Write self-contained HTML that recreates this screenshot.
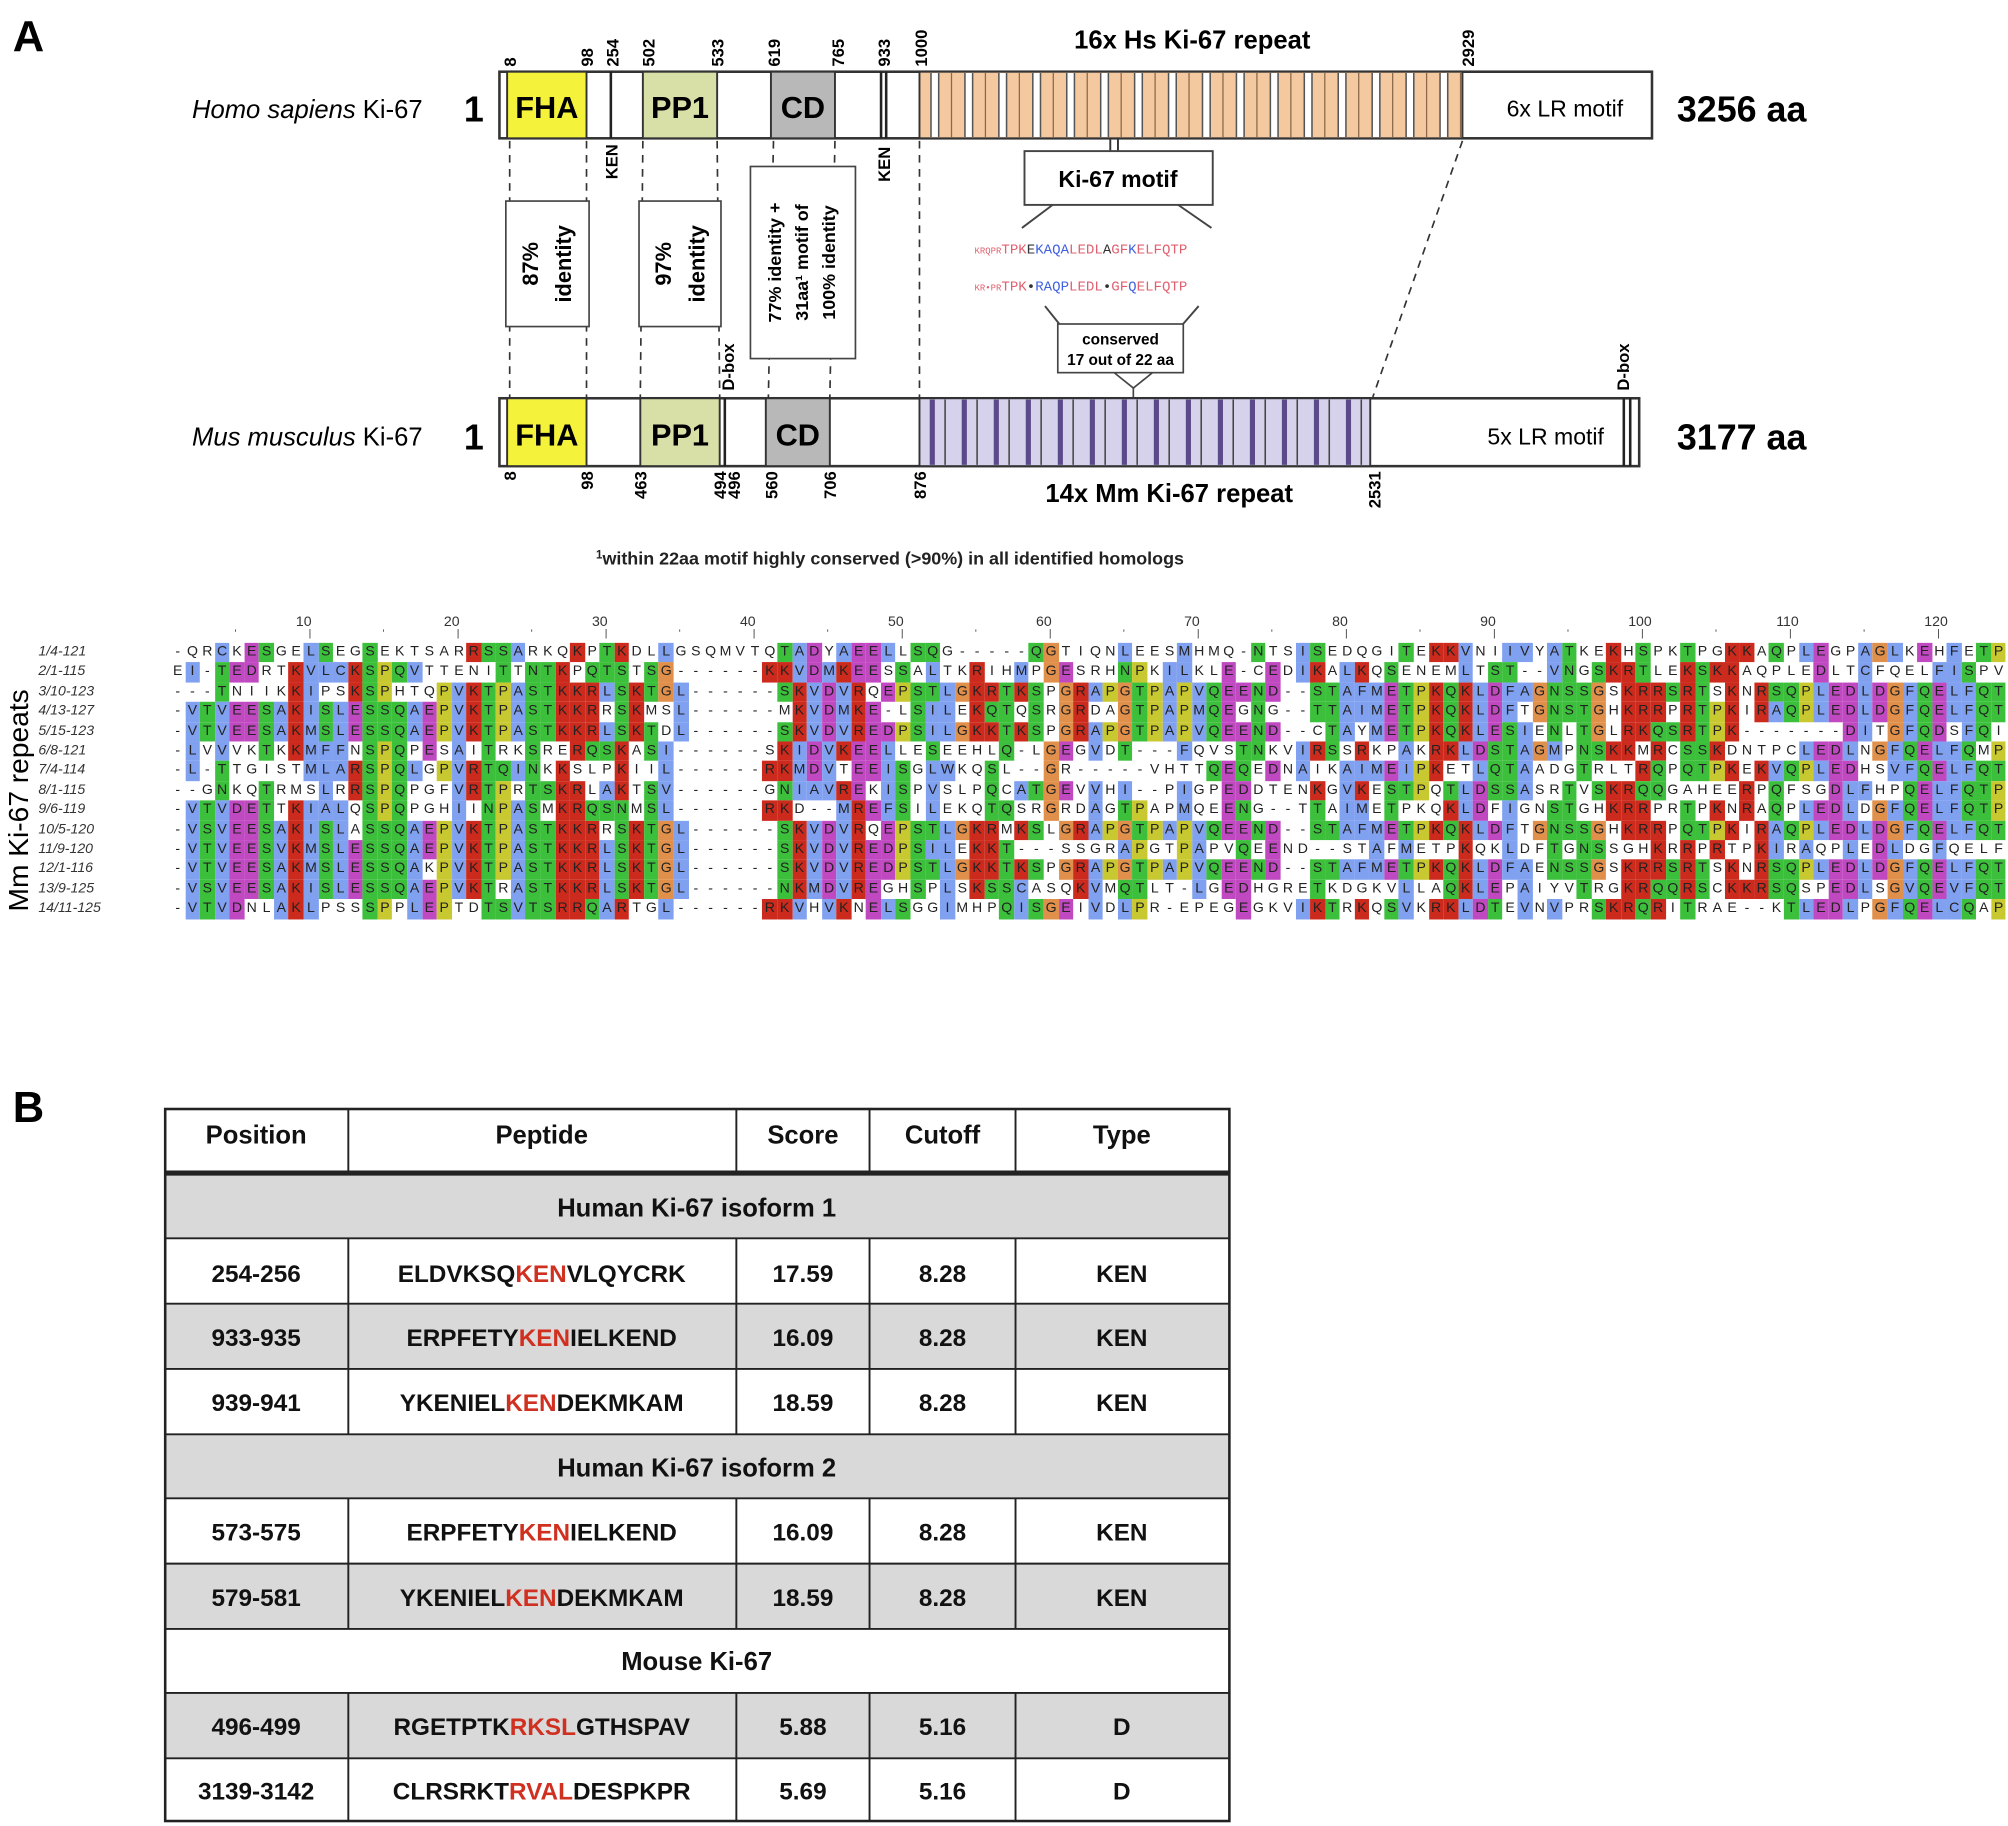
<!DOCTYPE html>
<html><head><meta charset="utf-8">
<style>
html,body{margin:0;padding:0;background:#fff;}
#wrap{position:relative;width:1568px;height:1426px;transform:scale(1.28061);transform-origin:0 0;font-family:"Liberation Sans",sans-serif;}
svg{position:absolute;left:0;top:0;}
#aln{position:absolute;left:0;top:0;}
.c{position:absolute;width:11.56px;height:15.4px;font-size:11px;line-height:15.4px;text-align:center;color:#222;font-family:"Liberation Sans",sans-serif;}
.lab{position:absolute;left:30px;width:100px;font-size:11px;font-style:italic;color:#333;line-height:15.4px;}
.rn{position:absolute;font-size:11px;color:#333;}
</style></head><body>
<div id="wrap">
<svg width="1568" height="1426" viewBox="0 0 1568 1426" font-family="Liberation Sans, sans-serif">
<text x="10" y="40" font-size="34" font-weight="bold">A</text>
<text x="10" y="876" font-size="34" font-weight="bold">B</text>

<text x="330" y="92" font-size="20" text-anchor="end"><tspan font-style="italic">Homo sapiens</tspan> Ki-67</text>
<text x="370" y="95" font-size="28" font-weight="bold" text-anchor="middle">1</text>
<text x="1360" y="95" font-size="28" font-weight="bold" text-anchor="middle">3256 aa</text>
<text x="931" y="38" font-size="20" font-weight="bold" text-anchor="middle">16x Hs Ki-67 repeat</text>
<rect x="390" y="56" width="900" height="52" fill="#fff" stroke="#333" stroke-width="2"/>
<rect x="396" y="56" width="62" height="52" fill="#f5f23c" stroke="#333" stroke-width="1.5"/>
<text x="427" y="92" font-size="24" font-weight="bold" text-anchor="middle">FHA</text>
<line x1="477" y1="56" x2="477" y2="108" stroke="#222" stroke-width="2"/>
<rect x="502" y="56" width="58" height="52" fill="#d8e0a8" stroke="#333" stroke-width="1.5"/>
<text x="531" y="92" font-size="24" font-weight="bold" text-anchor="middle">PP1</text>
<rect x="602" y="56" width="50" height="52" fill="#b8b8b8" stroke="#333" stroke-width="1.5"/>
<text x="627" y="92" font-size="24" font-weight="bold" text-anchor="middle">CD</text>
<line x1="688" y1="56" x2="688" y2="108" stroke="#222" stroke-width="2"/>
<line x1="692" y1="56" x2="692" y2="108" stroke="#222" stroke-width="2"/>
<rect x="718" y="56" width="424" height="52" fill="#f5c9a0" stroke="#333" stroke-width="1.5"/>
<g id="hstripes"></g>
<text x="1222" y="91" font-size="18" text-anchor="middle">6x LR motif</text>
<g font-size="13" font-weight="bold">
<text transform="translate(403,52) rotate(-90)">8</text>
<text transform="translate(463,52) rotate(-90)">98</text>
<text transform="translate(483,52) rotate(-90)">254</text>
<text transform="translate(511,52) rotate(-90)">502</text>
<text transform="translate(565,52) rotate(-90)">533</text>
<text transform="translate(609,52) rotate(-90)">619</text>
<text transform="translate(659,52) rotate(-90)">765</text>
<text transform="translate(695,52) rotate(-90)">933</text>
<text transform="translate(724,52) rotate(-90)">1000</text>
<text transform="translate(1151,52) rotate(-90)">2929</text>
<text transform="translate(482,140) rotate(-90)">KEN</text>
<text transform="translate(695,142) rotate(-90)">KEN</text>
<text transform="translate(573,305) rotate(-90)">D-box</text>
<text transform="translate(1272,305) rotate(-90)">D-box</text>
</g>

<g stroke="#333" stroke-width="1.3" stroke-dasharray="6,5" fill="none">
<line x1="398" y1="110" x2="398" y2="310"/>
<line x1="458" y1="110" x2="458" y2="310"/>
<line x1="502" y1="110" x2="500" y2="310"/>
<line x1="560" y1="110" x2="562" y2="310"/>
<line x1="604" y1="110" x2="600" y2="310"/>
<line x1="652" y1="110" x2="648" y2="310"/>
<line x1="718" y1="110" x2="718" y2="310"/>
<line x1="1142" y1="110" x2="1072" y2="310"/>
</g>
<rect x="395" y="157" width="65" height="98" fill="#fff" stroke="#444" stroke-width="1.3"/>
<text transform="translate(420,206) rotate(-90)" font-size="17" font-weight="bold" text-anchor="middle">87%</text>
<text transform="translate(446,206) rotate(-90)" font-size="17" font-weight="bold" text-anchor="middle">identity</text>
<rect x="499" y="157" width="64" height="98" fill="#fff" stroke="#444" stroke-width="1.3"/>
<text transform="translate(524,206) rotate(-90)" font-size="17" font-weight="bold" text-anchor="middle">97%</text>
<text transform="translate(550,206) rotate(-90)" font-size="17" font-weight="bold" text-anchor="middle">identity</text>
<rect x="586" y="130" width="82" height="150" fill="#fff" stroke="#444" stroke-width="1.3"/>
<g font-size="14" font-weight="bold" text-anchor="middle">
<text transform="translate(610,205) rotate(-90)">77% identity +</text>
<text transform="translate(631,205) rotate(-90)">31aa¹ motif of</text>
<text transform="translate(652,205) rotate(-90)">100% identity</text>
</g>

<line x1="867" y1="108" x2="867" y2="118" stroke="#333" stroke-width="1.5"/>
<line x1="873" y1="108" x2="873" y2="118" stroke="#333" stroke-width="1.5"/>
<rect x="800" y="118" width="147" height="42" fill="#fff" stroke="#444" stroke-width="1.5"/>
<text x="873" y="146" font-size="18" font-weight="bold" text-anchor="middle">Ki-67 motif</text>
<line x1="822" y1="160" x2="798" y2="178" stroke="#444" stroke-width="1.5"/>
<line x1="920" y1="160" x2="946" y2="178" stroke="#444" stroke-width="1.5"/>
<g font-family="Liberation Mono, monospace" font-size="11">
<text x="761" y="198" fill="#e06070"><tspan font-size="7">KRQPR</tspan>TPK<tspan fill="#333">E</tspan><tspan fill="#4060e0">KAQA</tspan>LEDL<tspan fill="#333">A</tspan>GF<tspan fill="#4060e0">K</tspan>ELFQTP</text>
<text x="761" y="227" fill="#e06070"><tspan font-size="7">KR•PR</tspan>TPK<tspan fill="#333">•</tspan><tspan fill="#4060e0">RAQP</tspan>LEDL<tspan fill="#333">•</tspan>GF<tspan fill="#4060e0">Q</tspan>ELFQTP</text>
</g>
<line x1="816" y1="239" x2="828" y2="254" stroke="#444" stroke-width="1.5"/>
<line x1="936" y1="239" x2="923" y2="254" stroke="#444" stroke-width="1.5"/>
<rect x="826" y="253" width="98" height="38" fill="#fff" stroke="#444" stroke-width="1.3"/>
<text x="875" y="269" font-size="12" font-weight="bold" text-anchor="middle">conserved</text>
<text x="875" y="285" font-size="12" font-weight="bold" text-anchor="middle">17 out of 22 aa</text>
<polyline points="870,291 885,303 900,291" fill="none" stroke="#444" stroke-width="1.3"/>
<line x1="885" y1="303" x2="885" y2="311" stroke="#444" stroke-width="1.3"/>

<text x="330" y="348" font-size="20" text-anchor="end"><tspan font-style="italic">Mus musculus</tspan> Ki-67</text>
<text x="370" y="351" font-size="28" font-weight="bold" text-anchor="middle">1</text>
<text x="1360" y="351" font-size="28" font-weight="bold" text-anchor="middle">3177 aa</text>
<rect x="390" y="311" width="890" height="53" fill="#fff" stroke="#333" stroke-width="2"/>
<rect x="396" y="311" width="62" height="53" fill="#f5f23c" stroke="#333" stroke-width="1.5"/>
<text x="427" y="348" font-size="24" font-weight="bold" text-anchor="middle">FHA</text>
<rect x="500" y="311" width="62" height="53" fill="#d8e0a8" stroke="#333" stroke-width="1.5"/>
<text x="531" y="348" font-size="24" font-weight="bold" text-anchor="middle">PP1</text>
<line x1="566" y1="311" x2="566" y2="364" stroke="#222" stroke-width="2"/>
<rect x="598" y="311" width="50" height="53" fill="#b8b8b8" stroke="#333" stroke-width="1.5"/>
<text x="623" y="348" font-size="24" font-weight="bold" text-anchor="middle">CD</text>
<rect x="718" y="311" width="352" height="53" fill="#d6d2ec" stroke="#333" stroke-width="1.5"/>
<g id="mstripes"></g>
<text x="1207" y="347" font-size="18" text-anchor="middle">5x LR motif</text>
<line x1="1268" y1="311" x2="1268" y2="364" stroke="#222" stroke-width="2"/>
<line x1="1273" y1="311" x2="1273" y2="364" stroke="#222" stroke-width="2"/>
<g font-size="13" font-weight="bold" text-anchor="end">
<text transform="translate(403,368) rotate(-90)">8</text>
<text transform="translate(463,368) rotate(-90)">98</text>
<text transform="translate(505,368) rotate(-90)">463</text>
<text transform="translate(567,368) rotate(-90)">494</text>
<text transform="translate(578,368) rotate(-90)">496</text>
<text transform="translate(607,368) rotate(-90)">560</text>
<text transform="translate(653,368) rotate(-90)">706</text>
<text transform="translate(723,368) rotate(-90)">876</text>
<text transform="translate(1078,368) rotate(-90)">2531</text>
</g>
<text x="913" y="392" font-size="20" font-weight="bold" text-anchor="middle">14x Mm Ki-67 repeat</text>
<text x="695" y="441" font-size="14" font-weight="bold" text-anchor="middle" fill="#222"><tspan font-size="9" dy="-5">1</tspan><tspan dy="5">within 22aa motif highly conserved (&gt;90%) in all identified homologs</tspan></text>

<text transform="translate(22,625) rotate(-90)" font-size="22" text-anchor="middle">Mm Ki-67 repeats</text>

<g>
<rect x="129" y="916" width="831" height="51" fill="#d9d9d9"/>
<rect x="129" y="1018" width="831" height="51" fill="#d9d9d9"/>
<rect x="129" y="1120" width="831" height="50" fill="#d9d9d9"/>
<rect x="129" y="1221" width="831" height="51" fill="#d9d9d9"/>
<rect x="129" y="1322" width="831" height="51" fill="#d9d9d9"/>
<rect x="129" y="866" width="831" height="556" fill="none" stroke="#222" stroke-width="2"/>
<line x1="129" y1="916" x2="960" y2="916" stroke="#222" stroke-width="4"/>
<g stroke="#222" stroke-width="1.5">
<line x1="129" y1="967" x2="960" y2="967"/><line x1="129" y1="1018" x2="960" y2="1018"/>
<line x1="129" y1="1069" x2="960" y2="1069"/><line x1="129" y1="1120" x2="960" y2="1120"/>
<line x1="129" y1="1170" x2="960" y2="1170"/><line x1="129" y1="1221" x2="960" y2="1221"/>
<line x1="129" y1="1272" x2="960" y2="1272"/><line x1="129" y1="1322" x2="960" y2="1322"/>
<line x1="129" y1="1373" x2="960" y2="1373"/>
<line x1="272" y1="866" x2="272" y2="916"/><line x1="575" y1="866" x2="575" y2="916"/><line x1="679" y1="866" x2="679" y2="916"/><line x1="793" y1="866" x2="793" y2="916"/>
<line x1="272" y1="967" x2="272" y2="1120"/><line x1="575" y1="967" x2="575" y2="1120"/><line x1="679" y1="967" x2="679" y2="1120"/><line x1="793" y1="967" x2="793" y2="1120"/>
<line x1="272" y1="1170" x2="272" y2="1272"/><line x1="575" y1="1170" x2="575" y2="1272"/><line x1="679" y1="1170" x2="679" y2="1272"/><line x1="793" y1="1170" x2="793" y2="1272"/>
<line x1="272" y1="1322" x2="272" y2="1422"/><line x1="575" y1="1322" x2="575" y2="1422"/><line x1="679" y1="1322" x2="679" y2="1422"/><line x1="793" y1="1322" x2="793" y2="1422"/>
</g>
<g font-size="20" font-weight="bold" text-anchor="middle" fill="#111">
<text x="200" y="893">Position</text><text x="423" y="893">Peptide</text><text x="627" y="893">Score</text><text x="736" y="893">Cutoff</text><text x="876" y="893">Type</text>
<text x="544" y="950">Human Ki-67 isoform 1</text>
<text x="544" y="1153">Human Ki-67 isoform 2</text>
<text x="544" y="1304">Mouse Ki-67</text>
</g>
<g font-size="19" font-weight="bold" text-anchor="middle" fill="#111">
<text x="200" y="1001">254-256</text><text x="423" y="1001">ELDVKSQ<tspan fill="#d03020">KEN</tspan>VLQYCRK</text><text x="627" y="1001">17.59</text><text x="736" y="1001">8.28</text><text x="876" y="1001">KEN</text>
<text x="200" y="1051">933-935</text><text x="423" y="1051">ERPFETY<tspan fill="#d03020">KEN</tspan>IELKEND</text><text x="627" y="1051">16.09</text><text x="736" y="1051">8.28</text><text x="876" y="1051">KEN</text>
<text x="200" y="1102">939-941</text><text x="423" y="1102">YKENIEL<tspan fill="#d03020">KEN</tspan>DEKMKAM</text><text x="627" y="1102">18.59</text><text x="736" y="1102">8.28</text><text x="876" y="1102">KEN</text>
<text x="200" y="1203">573-575</text><text x="423" y="1203">ERPFETY<tspan fill="#d03020">KEN</tspan>IELKEND</text><text x="627" y="1203">16.09</text><text x="736" y="1203">8.28</text><text x="876" y="1203">KEN</text>
<text x="200" y="1254">579-581</text><text x="423" y="1254">YKENIEL<tspan fill="#d03020">KEN</tspan>DEKMKAM</text><text x="627" y="1254">18.59</text><text x="736" y="1254">8.28</text><text x="876" y="1254">KEN</text>
<text x="200" y="1355">496-499</text><text x="423" y="1355">RGETPTK<tspan fill="#d03020">RKSL</tspan>GTHSPAV</text><text x="627" y="1355">5.88</text><text x="736" y="1355">5.16</text><text x="876" y="1355">D</text>
<text x="200" y="1405">3139-3142</text><text x="423" y="1405">CLRSRKT<tspan fill="#d03020">RVAL</tspan>DESPKPR</text><text x="627" y="1405">5.69</text><text x="736" y="1405">5.16</text><text x="876" y="1405">D</text>
</g>
</g>
</svg>
<div id="aln">
<div class="lab" style="top:502px">1/4-121</div>
<div class="lab" style="top:517.4px">2/1-115</div>
<div class="lab" style="top:532.8px">3/10-123</div>
<div class="lab" style="top:548.2px">4/13-127</div>
<div class="lab" style="top:563.6px">5/15-123</div>
<div class="lab" style="top:579px">6/8-121</div>
<div class="lab" style="top:594.4px">7/4-114</div>
<div class="lab" style="top:609.8px">8/1-115</div>
<div class="lab" style="top:625.2px">9/6-119</div>
<div class="lab" style="top:640.6px">10/5-120</div>
<div class="lab" style="top:656px">11/9-120</div>
<div class="lab" style="top:671.4px">12/1-116</div>
<div class="lab" style="top:686.8px">13/9-125</div>
<div class="lab" style="top:702.2px">14/11-125</div>
</div>
<div id="seqs" style="display:none">
-QRCKESGELSEGSEKTSARRSSARKQKPTKDLLGSQMVTQTADYAEELLSQG-----QGTIQNLEESMHMQ-NTSISEDQGITEKKVNIIVYATKEKHSPKTPGKKAQPLEGPAGLKEHFETPN
EI-TEDRTKVLCKSPQVTTENITTNTKPQTSTSG------KKVDMKEESSALTKRIHMPGESRHNPKILKLE-CEDIKALKQSENEMLTST--VNGSKRTLEKSKKAQPLEDLTCFQELFISPV
---TNIIKKIPSKSPHTQPVKTPASTKKRLSKTGL------SKVDVRQEPSTLGKRTKSPGRAPGTPAPVQEEND--STAFMETPKQKLDFAGNSSGSKRRSRTSKNRSQPLEDLDGFQELFQTPA
-VTVEESAKISLESSQAEPVKTPASTKKRRSKMSL------MKVDMKE-LSILEKQTQSRGRDAGTPAPMQEGNG--TTAIMETPKQKLDFTGNSTGHKRRPRTPKIRAQPLEDLDGFQELFQTPA
-VTVEESAKMSLESSQAEPVKTPASTKKRLSKTDL------SKVDVREDPSILGKKTKSPGRAPGTPAPVQEEND--CTAYMETPKQKLESIENLTGLRKQSRTPK-------DITGFQDSFQIPD
-LVVVKTKKMFFNSPQPESAITRKSRERQSKASI------SKIDVKEELLESEEHLQ-LGEGVDT---FQVSTNKVIRSSRKPAKRKLDSTAGMPNSKKMRCSSKDNTPCLEDLNGFQELFQMPG
-L-TTGISTMLARSPQLGPVRTQINKKSLPKIIL------RKMDVTEEISGLWKQSL--GR-----VHTTQEQEDNAIKAIMEIPKETLQTAADGTRLTRQPQTPKEKVQPLEDHSVFQELFQTSR
--GNKQTRMSLRRSPQPGFVRTPRTSKRLAKTSV------GNIAVREKISPVSLPQCATGEVVHI--PIGPEDDTENKGVKESTPQTLDSSASRTVSKRQQGAHEERPQFSGDLFHPQELFQTPA
-VTVDETTKIALQSPQPGHIINPASMKRQSNMSL------RKD--MREFSILEKQTQSRGRDAGTPAPMQEENG--TTAIMETPKQKLDFIGNSTGHKRRPRTPKNRAQPLEDLDGFQELFQTPA
-VSVEESAKISLASSQAEPVKTPASTKKRRSKTGL------SKVDVRQEPSTLGKRMKSLGRAPGTPAPVQEEND--STAFMETPKQKLDFTGNSSGHKRRPQTPKIRAQPLEDLDGFQELFQTPA
-VTVEESVKMSLESSQAEPVKTPASTKKRLSKTGL------SKVDVREDPSILEKKT---SSGRAPGTPAPVQEEND--STAFMETPKQKLDFTGNSSGHKRRPRTPKIRAQPLEDLDGFQELFQTPA
-VTVEESAKMSLESSQAKPVKTPASTKKRLSKTGL------SKVDVREDPSTLGKKTKSPGRAPGTPAPVQEEND--STAFMETPKQKLDFAENSSGSKRRSRTSKNRSQPLEDLDGFQELFQTPA
-VSVEESAKISLESSQAEPVKTRASTKKRLSKTGL------NKMDVREGHSPLSKSSCASQKVMQTLT-LGEDHGRETKDGKVLLAQKLEPAIYVTRGKRQQRSCKKRSQSPEDLSGVQEVFQTSG
-VTVDNLAKLPSSSPPLEPTDTSVTSRRQARTGL------RKVHVKNELSGGIMHPQISGEIVDLPR-EPEGEGKVIKTRKQSVKRKLDTEVNVPRSKRQRITRAE--KTLEDLPGFQELCQAPS
</div>
</div>
<script>
(function(){
var ns="http://www.w3.org/2000/svg";
function ln(g,x,c,w,y1,y2){var l=document.createElementNS(ns,"line");l.setAttribute("x1",x);l.setAttribute("x2",x);l.setAttribute("y1",y1);l.setAttribute("y2",y2);l.setAttribute("stroke",c);l.setAttribute("stroke-width",w);g.appendChild(l);}
function rc(g,x,w,c,y,h){var r=document.createElementNS(ns,"rect");r.setAttribute("x",x);r.setAttribute("y",y);r.setAttribute("width",w);r.setAttribute("height",h);r.setAttribute("fill",c);g.appendChild(r);}
var hs=document.getElementById("hstripes");
for(var i=0;i<16;i++){var x=727+i*26.5;if(x>1136)break;
 rc(hs,x,6,"#fff",57,50);ln(hs,x,"#555",1.2,57,107);ln(hs,x+6,"#555",1.2,57,107);ln(hs,x+16,"#8a6a4a",1,57,107);}
var ms=document.getElementById("mstripes");
for(var i=0;i<14;i++){var x=726+i*25;if(x>1066)break;
 rc(ms,x,4,"#5a4a8a",312,51);ln(ms,x+12,"#444",1.2,312,363);}
var rows=document.getElementById("seqs").textContent.trim().split(/\s+/);
var N=124,x0=133,y0=502,cw=11.56,rh=15.4;
rows=rows.map(function(r){while(r.length<N)r+="-";return r.substr(0,N);});
var cls=function(a){if("AILMFWVC".indexOf(a)>=0)return "h";if("KR".indexOf(a)>=0)return "k";if("DE".indexOf(a)>=0)return "d";if("STNQ".indexOf(a)>=0)return "s";if(a=="G")return "g";if(a=="P")return "p";if("YH".indexOf(a)>=0)return "y";return null;};
var col={h:"#80a0f0",k:"#cc2a1c",d:"#c048c0",s:"#3cc03c",g:"#e0904a",p:"#c8c830",y:"#20a8a8"};
var aln=document.getElementById("aln"),html="";
for(var j=0;j<N;j++){var cnt={};rows.forEach(function(r){var c=cls(r[j]);if(c)cnt[c]=(cnt[c]||0)+1;});
 rows.forEach(function(r,i){var a=r[j],c=cls(a),bg="";if(c&&cnt[c]>=4)bg="background:"+col[c]+";";
  html+='<div class="c" style="left:'+(x0+j*cw).toFixed(2)+'px;top:'+(y0+i*rh).toFixed(1)+'px;'+bg+'">'+(a=="-"?"-":a)+'</div>';});
 var n=j+1;if(n%10==0)html+='<div class="rn" style="left:'+(x0+j*cw-6)+'px;top:480px">'+n+'</div><div class="rn" style="left:'+(x0+j*cw+4)+'px;top:490px;font-size:8px">|</div>';
 else if(n%5==0)html+='<div class="rn" style="left:'+(x0+j*cw+4)+'px;top:490px;font-size:8px">\'</div>';}
aln.insertAdjacentHTML("beforeend",html);
})();
</script>
</body></html>
